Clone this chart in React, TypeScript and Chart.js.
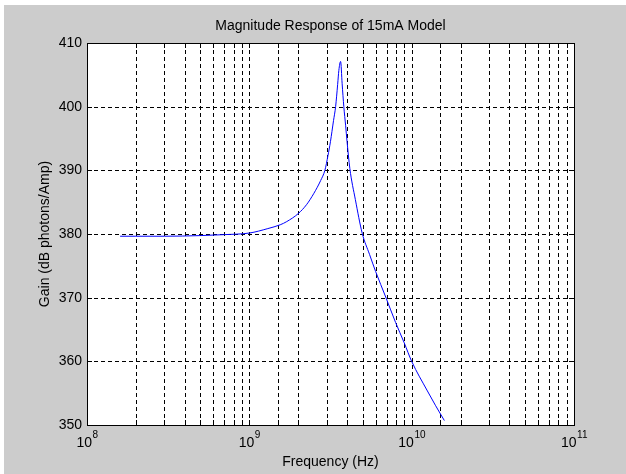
import React, { useEffect, useRef } from "react";
import { Chart, registerables } from "chart.js";

Chart.register(...registerables);

const chartTitle = "Magnitude Response of 15mA Model";
const xAxisTitle = "Frequency (Hz)";
const yAxisTitle = "Gain (dB photons/Amp)";

const freqHz = [
  1.6e8, 2e8, 3e8, 5e8, 7e8, 1e9, 1.3e9, 1.55e9, 1.7e9, 2.0e9, 2.25e9, 2.5e9,
  2.75e9, 2.92e9, 3.05e9, 3.16e9, 3.3e9, 3.4e9, 3.5e9, 3.56e9, 3.65e9, 3.73e9,
  3.82e9, 3.92e9, 4.0e9, 4.16e9, 4.5e9, 4.96e9, 5.5e9, 6.0e9, 6.92e9, 7.96e9,
  9e9, 1.0e10, 1.25e10, 1.4e10, 1.59e10,
];
const gainDb = [
  379.65, 379.65, 379.65, 379.75, 379.9, 380.15, 380.85, 381.45, 381.95, 383.2,
  384.6, 386.4, 388.4, 390, 392.3, 394.5, 397.8, 400, 403.5, 405.7, 407.1,
  403.6, 400, 397, 394.5, 390.3, 385.4, 380.1, 376.8, 374.1, 370.1, 366.1,
  362.9, 360, 355.35, 353.1, 350.7,
];
const yTickValues = [350, 360, 370, 380, 390, 400, 410];
const xDecades = [1e8, 1e9, 1e10, 1e11];
const xDecadeBase = "10";
const xDecadeExponents = ["8", "9", "10", "11"];

const FONT = "'Liberation Sans', Arial, Helvetica, sans-serif";

const framePlugin = {
  id: "matlabFrame",
  beforeDraw(chart: any) {
    const { ctx, width, height, chartArea: a } = chart;
    ctx.save();
    ctx.fillStyle = "#ffffff";
    ctx.fillRect(0, 0, width, height);
    ctx.fillStyle = "#cccccc";
    ctx.fillRect(4, 5, width - 4, height - 5);
    ctx.fillStyle = "#ffffff";
    ctx.fillRect(a.left, a.top, a.right - a.left, a.bottom - a.top);
    ctx.restore();
  },
  beforeDatasetsDraw(chart: any) {
    const { ctx, chartArea: a, scales } = chart;
    const xs = scales.x;
    const ys = scales.y;
    ctx.save();
    ctx.strokeStyle = "#000000";
    ctx.lineWidth = 1;
    ctx.setLineDash([4, 3]);
    xs.ticks.forEach((t: any) => {
      const px = Math.round(xs.getPixelForValue(t.value)) + 0.5;
      if (px <= a.left + 1 || px >= a.right - 1) return;
      ctx.beginPath();
      ctx.moveTo(px, a.top);
      ctx.lineTo(px, a.bottom);
      ctx.stroke();
    });
    ys.ticks.forEach((t: any) => {
      const py = Math.round(ys.getPixelForValue(t.value)) + 0.5;
      if (py <= a.top + 1 || py >= a.bottom - 1) return;
      ctx.beginPath();
      ctx.moveTo(a.left, py);
      ctx.lineTo(a.right, py);
      ctx.stroke();
    });
    ctx.restore();
  },
  afterDraw(chart: any) {
    const { ctx, chartArea: a, scales } = chart;
    const xs = scales.x;
    const ys = scales.y;
    ctx.save();
    ctx.strokeStyle = "#000000";
    ctx.lineWidth = 1;
    ctx.setLineDash([]);
    ctx.beginPath();
    xs.ticks.forEach((t: any) => {
      const px = Math.round(xs.getPixelForValue(t.value)) + 0.5;
      ctx.moveTo(px, a.top);
      ctx.lineTo(px, a.top + 5);
      ctx.moveTo(px, a.bottom);
      ctx.lineTo(px, a.bottom - 5);
    });
    ys.ticks.forEach((t: any) => {
      const py = Math.round(ys.getPixelForValue(t.value)) + 0.5;
      ctx.moveTo(a.left, py);
      ctx.lineTo(a.left + 5, py);
      ctx.moveTo(a.right, py);
      ctx.lineTo(a.right - 5, py);
    });
    ctx.stroke();
    ctx.strokeRect(
      Math.round(a.left) + 0.5,
      Math.round(a.top) + 0.5,
      Math.round(a.right - a.left),
      Math.round(a.bottom - a.top)
    );
    // decade labels 10^n with raised exponent
    ctx.fillStyle = "#000000";
    ctx.textBaseline = "alphabetic";
    ctx.textAlign = "left";
    xDecades.forEach((d, i) => {
      const px = xs.getPixelForValue(d);
      ctx.font = `14px ${FONT}`;
      const w1 = ctx.measureText(xDecadeBase).width;
      ctx.font = `10px ${FONT}`;
      const w2 = ctx.measureText(xDecadeExponents[i]).width;
      const start = px - (w1 + w2) / 2;
      ctx.font = `14px ${FONT}`;
      ctx.fillText(xDecadeBase, start, a.bottom + 22);
      ctx.font = `10px ${FONT}`;
      ctx.fillText(xDecadeExponents[i], start + w1 + 0.5, a.bottom + 13);
    });
    ctx.restore();
  },
};

export default function App() {
  const ref = useRef<HTMLCanvasElement | null>(null);

  useEffect(() => {
    if (!ref.current) return;
    const points = freqHz.map((f, i) => ({ x: f, y: gainDb[i] }));
    const chart = new Chart(ref.current, {
      type: "scatter",
      data: {
        datasets: [
          {
            data: points,
            showLine: true,
            borderColor: "#0000ff",
            borderWidth: 1,
            pointRadius: 0,
            cubicInterpolationMode: "monotone",
            fill: false,
          },
        ],
      },
      options: {
        animation: false,
        responsive: false,
        devicePixelRatio: 1,
        layout: { padding: { left: 0, right: 52, top: 0, bottom: 0 } },
        plugins: {
          legend: { display: false },
          tooltip: { enabled: false },
          title: {
            display: true,
            text: chartTitle,
            fullSize: false,
            color: "#000000",
            font: { family: FONT, size: 14, weight: "normal" },
            padding: { top: 17.6, bottom: 8.6 },
          },
        },
        scales: {
          x: {
            type: "logarithmic",
            min: 1e8,
            max: 1e11,
            afterFit(scale: any) {
              scale.height = 49;
            },
            grid: { display: false, drawTicks: false },
            border: { display: false },
            ticks: {
              display: false,
              autoSkip: false,
              maxRotation: 0,
            },
            title: {
              display: true,
              text: xAxisTitle,
              color: "#000000",
              font: { family: FONT, size: 14 },
              padding: { top: 0, bottom: 3.6 },
            },
          },
          y: {
            min: 350,
            max: 410,
            afterFit(scale: any) {
              scale.width = 87;
            },
            afterBuildTicks(scale: any) {
              scale.ticks = yTickValues.map((v) => ({ value: v }));
            },
            grid: { display: false, drawTicks: false },
            border: { display: false },
            ticks: {
              color: "#000000",
              padding: 5,
              font: { family: FONT, size: 14 },
            },
            title: {
              display: true,
              text: yAxisTitle,
              color: "#000000",
              font: { family: FONT, size: 14 },
              padding: { top: 36.6, bottom: 0 },
            },
          },
        },
      },
      plugins: [framePlugin],
    } as any);
    return () => chart.destroy();
  }, []);

  return (
    <div style={{ position: "absolute", left: 0, top: 0, width: 626, height: 474 }}>
      <canvas ref={ref} width={626} height={474} style={{ display: "block" }} />
    </div>
  );
}
